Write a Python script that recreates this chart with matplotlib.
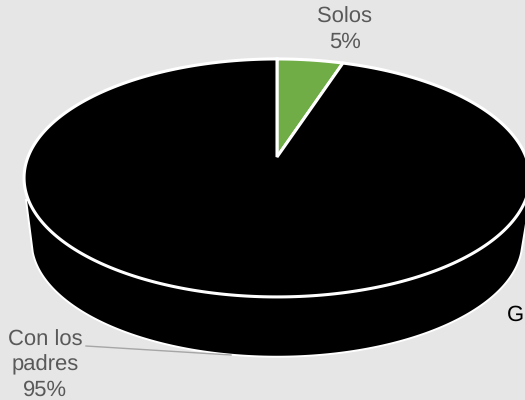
import numpy as np
import matplotlib
matplotlib.use("Agg")
import matplotlib.pyplot as plt
from matplotlib.patches import Polygon

labels = ["Solos", "Con los\npadres"]
shares = [5, 95]
colors = ["#70AD47", "#000000"]

BG = "#E6E6E6"
TEXT = "#595959"
LEADER = "#A6A6A6"

# Tilted-disc projection: unit circle to canvas pixels with a perspective term
CX, CY = 277.0, 157.0
RX, RY, K = 249.0, 115.3, 0.176
DEPTH = 64.0
BASE_SCALE = 0.97
WALL_JOIN = 22.0
BASE_MIN_Y = 252.0


def project(theta, scale=1.0, drop=0.0):
    """Clockwise angle from 12 o'clock to canvas coordinates."""
    u = np.sin(theta)
    v = np.cos(theta)
    d = 1 + K * v
    return CX + scale * RX * u / d, CY + drop + scale * RY * (-v) / d


def rim_angle_of_extreme(sign):
    """Angle at which the top rim reaches its left/right extreme."""
    t = np.linspace(0, 2 * np.pi, 2000)
    x, _ = project(t)
    return t[np.argmax(sign * x)]


plt.rcParams["font.family"] = ["Liberation Sans", "DejaVu Sans"]
plt.rcParams["text.hinting"] = "no_hinting"
plt.rcParams["text.hinting_factor"] = 1
fig = plt.figure(figsize=(5.25, 4.0), dpi=100, facecolor=BG)
ax = fig.add_axes([0, 0, 1, 1])
ax.set_xlim(0, 525)
ax.set_ylim(400, 0)
ax.axis("off")

# Side wall: lower part of the base rim, joined by straight edges to the top rim
t_right = rim_angle_of_extreme(1)
t_left = rim_angle_of_extreme(-1)
t_base = np.linspace(t_right, t_left, 300)
bx, by = project(t_base, BASE_SCALE, DEPTH)
keep = by >= BASE_MIN_Y
rx0, ry0 = project(np.array([t_right]))
lx0, ly0 = project(np.array([t_left]))
wall_x = np.r_[rx0, bx[keep], lx0 + 2]
wall_y = np.r_[ry0 + WALL_JOIN, by[keep], ly0 + WALL_JOIN]
ax.add_patch(Polygon(np.c_[wall_x, wall_y], closed=True, facecolor="#000000",
                     edgecolor="white", linewidth=1.4, zorder=1))

# Top face: one wedge per share, running clockwise from 12 o'clock
edges = 2 * np.pi * np.r_[0, np.cumsum(shares)] / np.sum(shares)
for start, stop, color in zip(edges[:-1], edges[1:], colors):
    t = np.linspace(start, stop, 400)
    x, y = project(t)
    pts = np.c_[np.r_[CX, x], np.r_[CY, y]]
    ax.add_patch(Polygon(pts, closed=True, facecolor=color, edgecolor="white",
                         linewidth=2.2, joinstyle="miter", zorder=2))

# Data labels
ax.text(345, 30, f"{labels[0]}\n{shares[0]}%", ha="center", va="center",
        color=TEXT, fontsize=15.5, linespacing=1.28, zorder=4)
ax.text(45, 365, f"{labels[1]}\n{shares[1]}%", ha="center", va="center",
        color=TEXT, fontsize=15.5, linespacing=1.28, zorder=4)
ax.plot([86, 231], [346, 355], color=LEADER, linewidth=1.0, zorder=3)

# Truncated label at the right-hand edge
ax.text(507, 315, "G", ha="left", va="center", color="#000000", fontsize=15.5,
        zorder=4)

fig.savefig("out.png", dpi=100, facecolor=BG)
